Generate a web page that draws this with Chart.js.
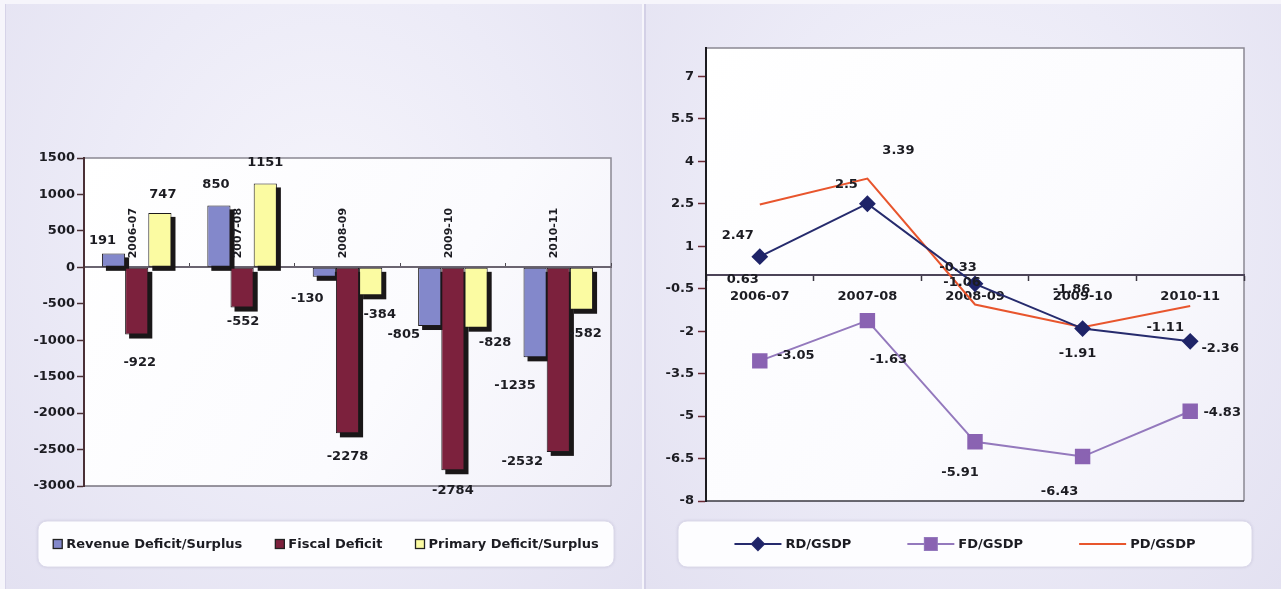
<!DOCTYPE html>
<html>
<head>
<meta charset="utf-8">
<script src="https://cdn.jsdelivr.net/npm/chart.js@4.4.1/dist/chart.umd.min.js"></script>
<style>
  html, body { margin: 0; padding: 0; width: 1281px; height: 589px; overflow: hidden; background: #f6f5fb; }
  .panel { position: absolute; top: 4px; height: 585px; }
  #panelL { left: 5px; width: 636px; border-left: 1px solid #d6d3e8;
            background: radial-gradient(ellipse at 50% 38%, #f5f4fb 0%, #ecebf7 50%, #e3e1f1 100%); }
  #panelR { left: 644px; width: 637px; border-left: 2px solid #d3d0e6;
            background: radial-gradient(ellipse at 50% 38%, #f5f4fb 0%, #ecebf7 50%, #e3e1f1 100%); }
  canvas { position: absolute; top: 0; }
  #bars { left: 0; }
  #ratios { left: 641px; }
</style>
</head>
<body>
<div class="panel" id="panelL"></div>
<div class="panel" id="panelR"></div>
<canvas id="bars" width="641" height="589"></canvas>
<canvas id="ratios" width="640" height="589"></canvas>
<script>
// ---- Deficit figures (Rs. crore) ----
const barCategories = ['2006-07', '2007-08', '2008-09', '2009-10', '2010-11'];
const revenueDeficit = [191, 850, -130, -805, -1235];
const fiscalDeficit = [-922, -552, -2278, -2784, -2532];
const primaryDeficit = [747, 1151, -384, -828, -582];
const barAxisTicks = [1500, 1000, 500, 0, -500, -1000, -1500, -2000, -2500, -3000];

// ---- Deficits as % of GSDP ----
const ratioYears = ['2006-07', '2007-08', '2008-09', '2009-10', '2010-11'];
const rdGsdp = [0.63, 2.5, -0.33, -1.91, -2.36];
const fdGsdp = [-3.05, -1.63, -5.91, -6.43, -4.83];
const pdGsdp = [2.47, 3.39, -1.06, -1.86, -1.11];
const ratioAxisTicks = [7, 5.5, 4, 2.5, 1, -0.5, -2, -3.5, -5, -6.5, -8];

// label placement relative to each mark (pixels)
const revenueLabelShift = [[-11, -13], [-3, -21], [-17, 22], [-26, 9], [-20, 28]];
const fiscalLabelShift = [[3, 28], [1, 14], [0, 23], [0, 20], [-36, 10]];
const primaryLabelShift = [[3, -18], [0, -21], [9, 19], [19, 15], [4, 24]];
const rdLabelShift = [[-17, 23], [-21, -19], [-17, -16], [-5, 25], [30, 7]];
const fdLabelShift = [[36, -5], [21, 39], [-15, 31], [-23, 35], [32, 1]];
const pdLabelShift = [[-22, 31], [31, -28], [-13, -22], [-11, -38], [-25, 22]];

const FONT = '"DejaVu Sans", "Liberation Sans", sans-serif';
const INK = '#1c1c22';
const LABEL_FONT = 'bold 13px ' + FONT;

function roundedBox(ctx, x, y, w, h, r) {
  ctx.beginPath();
  ctx.moveTo(x + r, y);
  ctx.arcTo(x + w, y, x + w, y + h, r);
  ctx.arcTo(x + w, y + h, x, y + h, r);
  ctx.arcTo(x, y + h, x, y, r);
  ctx.arcTo(x, y, x + w, y, r);
  ctx.closePath();
}

function drawLegendFrame(ctx, box) {
  ctx.save();
  ctx.shadowColor = 'rgba(120,115,160,0.35)';
  ctx.shadowBlur = 3;
  roundedBox(ctx, box.x, box.y, box.w, box.h, 9);
  ctx.fillStyle = '#fdfdff';
  ctx.fill();
  ctx.shadowColor = 'transparent';
  ctx.strokeStyle = '#dcdaea';
  ctx.lineWidth = 1;
  ctx.stroke();
  ctx.restore();
}

// white plot area with a thin grey frame
const plotFrame = {
  id: 'plotFrame',
  beforeDraw(chart, args, opts) {
    const { ctx, chartArea: a } = chart;
    ctx.save();
    const g = ctx.createLinearGradient(a.left, a.top, a.right, a.bottom);
    g.addColorStop(0, '#ffffff');
    g.addColorStop(0.6, '#fbfbfe');
    g.addColorStop(1, '#f1f0f9');
    ctx.fillStyle = g;
    ctx.fillRect(a.left, a.top, a.right - a.left, a.bottom - a.top);
    ctx.lineWidth = 1.5;
    ctx.strokeStyle = opts.color;
    ctx.beginPath();
    ctx.moveTo(a.left, a.top);
    ctx.lineTo(a.right, a.top);
    ctx.lineTo(a.right, a.bottom);
    ctx.stroke();
    ctx.strokeStyle = opts.bottomColor;
    ctx.beginPath();
    ctx.moveTo(a.left, a.bottom);
    ctx.lineTo(a.right, a.bottom);
    ctx.stroke();
    ctx.restore();
  }
};

// dark depth behind every bar
const barDepth = {
  id: 'barDepth',
  beforeDatasetsDraw(chart) {
    const ctx = chart.ctx;
    ctx.save();
    ctx.fillStyle = '#1a1718';
    chart.data.datasets.forEach((ds, di) => {
      chart.getDatasetMeta(di).data.forEach(bar => {
        const { x, y, base, width } = bar.getProps(['x', 'y', 'base', 'width'], true);
        const top = Math.min(y, base);
        ctx.fillRect(x - width / 2 + 4, top + 4, width, Math.abs(base - y));
      });
    });
    ctx.restore();
  }
};

// value printed next to every bar / point
const valueLabels = {
  id: 'valueLabels',
  afterDatasetsDraw(chart) {
    const ctx = chart.ctx;
    ctx.save();
    ctx.font = LABEL_FONT;
    ctx.fillStyle = INK;
    ctx.textAlign = 'center';
    ctx.textBaseline = 'middle';
    chart.data.datasets.forEach((ds, di) => {
      chart.getDatasetMeta(di).data.forEach((el, i) => {
        const [dx, dy] = ds.labelShift[i];
        ctx.fillText(String(ds.data[i]), el.x + dx, el.y + dy);
      });
    });
    ctx.restore();
  }
};

// year names standing upright on the zero line
const risingCategoryLabels = {
  id: 'risingCategoryLabels',
  afterDatasetsDraw(chart) {
    const { ctx, scales: { x: xs, y: ys } } = chart;
    const y0 = ys.getPixelForValue(0);
    ctx.save();
    ctx.font = 'bold 11px ' + FONT;
    ctx.fillStyle = INK;
    ctx.textAlign = 'left';
    ctx.textBaseline = 'middle';
    chart.data.labels.forEach((lab, i) => {
      ctx.save();
      ctx.translate(xs.getPixelForValue(i) - 4, y0 - 9);
      ctx.rotate(-Math.PI / 2);
      ctx.fillText(lab, 0, 0);
      ctx.restore();
    });
    ctx.restore();
  }
};

const barLegend = {
  id: 'barLegend',
  afterDraw(chart) {
    const ctx = chart.ctx;
    const box = { x: 38, y: 521, w: 576, h: 46 };
    drawLegendFrame(ctx, box);
    ctx.save();
    ctx.font = LABEL_FONT;
    const sw = 9, sg = 4, gap = 33;
    const items = chart.data.datasets.map(ds => ({
      text: ds.label, color: ds.backgroundColor,
      w: sw + sg + ctx.measureText(ds.label).width
    }));
    const total = items.reduce((s, it) => s + it.w, 0) + gap * (items.length - 1);
    let x = box.x + (box.w - total) / 2;
    const cy = box.y + box.h / 2;
    items.forEach(it => {
      ctx.fillStyle = it.color;
      ctx.fillRect(x, cy - 4.5, sw, sw);
      ctx.strokeStyle = '#222';
      ctx.lineWidth = 1.3;
      ctx.strokeRect(x, cy - 4.5, sw, sw);
      ctx.fillStyle = INK;
      ctx.textAlign = 'left';
      ctx.textBaseline = 'middle';
      ctx.fillText(it.text, x + sw + sg, cy + 0.5);
      x += it.w + gap;
    });
    ctx.restore();
  }
};

const lineLegend = {
  id: 'lineLegend',
  afterDraw(chart) {
    const ctx = chart.ctx;
    const box = { x: 37, y: 521, w: 574, h: 46 };
    drawLegendFrame(ctx, box);
    ctx.save();
    ctx.font = LABEL_FONT;
    const sw = 47, sg = 4, gap = 56;
    const items = chart.data.datasets.map(ds => ({
      ds, w: sw + sg + ctx.measureText(ds.label).width
    }));
    const total = items.reduce((s, it) => s + it.w, 0) + gap * (items.length - 1);
    let x = box.x + (box.w - total) / 2;
    const cy = box.y + box.h / 2;
    items.forEach(({ ds, w }) => {
      ctx.strokeStyle = ds.borderColor;
      ctx.lineWidth = 2;
      ctx.beginPath();
      ctx.moveTo(x, cy);
      ctx.lineTo(x + sw, cy);
      ctx.stroke();
      if (ds.pointRadius > 0) {
        Chart.helpers.drawPoint(ctx, {
          pointStyle: ds.pointStyle, radius: ds.legendRadius, rotation: 0, borderWidth: 1
        }, x + sw / 2, cy);
        ctx.fillStyle = ds.pointBackgroundColor;
        ctx.fill();
      }
      ctx.fillStyle = INK;
      ctx.textAlign = 'left';
      ctx.textBaseline = 'middle';
      ctx.fillText(ds.label, x + sw + sg, cy + 0.5);
      x += w + gap;
    });
    ctx.restore();
  }
};

const tickFont = { family: FONT, weight: 'bold', size: 13 };
const plainNumber = v => String(v);

new Chart(document.getElementById('bars'), {
  type: 'bar',
  data: {
    labels: barCategories,
    datasets: [
      { label: 'Revenue Deficit/Surplus', data: revenueDeficit, backgroundColor: '#8388cb', labelShift: revenueLabelShift },
      { label: 'Fiscal Deficit', data: fiscalDeficit, backgroundColor: '#7c213d', labelShift: fiscalLabelShift },
      { label: 'Primary Deficit/Surplus', data: primaryDeficit, backgroundColor: '#fbfba2', labelShift: primaryLabelShift }
    ]
  },
  options: {
    responsive: false,
    animation: false,
    events: [],
    layout: { padding: { left: 0, right: 30, top: 158, bottom: 103 } },
    datasets: { bar: { categoryPercentage: 0.66, barPercentage: 1, borderWidth: 1, borderColor: '#1d1a1c', borderSkipped: false } },
    scales: {
      x: {
        position: { y: 0 },
        offset: true,
        grid: { offset: true, drawOnChartArea: false, drawTicks: true, tickLength: -5, tickColor: '#4e4a52', tickWidth: 1 },
        border: { color: '#6a6470', width: 2 },
        ticks: { display: false }
      },
      y: {
        min: -3000, max: 1500,
        afterBuildTicks: s => { s.ticks = barAxisTicks.map(v => ({ value: v })); },
        afterFit: s => { s.width = 84; },
        grid: { drawOnChartArea: false, tickLength: 7, tickColor: '#4a3036', tickWidth: 1.5 },
        border: { color: '#4a3036', width: 2 },
        ticks: { padding: 2, color: INK, font: tickFont, callback: plainNumber }
      }
    },
    plugins: {
      legend: { display: false },
      tooltip: { enabled: false },
      plotFrame: { color: '#8b8893', bottomColor: '#77737e' }
    }
  },
  plugins: [plotFrame, barDepth, risingCategoryLabels, valueLabels, barLegend]
});

new Chart(document.getElementById('ratios'), {
  type: 'line',
  data: {
    labels: ratioYears,
    datasets: [
      { label: 'RD/GSDP', data: rdGsdp, borderColor: '#262b6d', pointBackgroundColor: '#1f2468', pointBorderColor: '#1f2468',
        pointStyle: 'rectRot', pointRadius: 7, legendRadius: 6, borderWidth: 2, labelShift: rdLabelShift },
      { label: 'FD/GSDP', data: fdGsdp, borderColor: '#9479bd', pointBackgroundColor: '#8a63b2', pointBorderColor: '#8a63b2',
        pointStyle: 'rect', pointRadius: 9.5, legendRadius: 8.5, borderWidth: 2, labelShift: fdLabelShift },
      { label: 'PD/GSDP', data: pdGsdp, borderColor: '#e8552d', pointRadius: 0, borderWidth: 2, labelShift: pdLabelShift }
    ]
  },
  options: {
    responsive: false,
    animation: false,
    events: [],
    layout: { padding: { left: 0, right: 37, top: 48, bottom: 88 } },
    scales: {
      x: {
        position: { y: 0 },
        offset: true,
        grid: { offset: true, drawOnChartArea: false, tickLength: 5, tickColor: '#3a3540', tickWidth: 1.5 },
        border: { color: '#4c4458', width: 2 },
        ticks: { color: INK, font: tickFont, padding: 9, maxRotation: 0, autoSkip: false }
      },
      y: {
        min: -8, max: 8,
        afterBuildTicks: s => { s.ticks = ratioAxisTicks.map(v => ({ value: v })); },
        afterFit: s => { s.width = 65; },
        grid: { drawOnChartArea: false, tickLength: 8, tickColor: '#6a2a35', tickWidth: 1.5 },
        border: { color: '#1c1b20', width: 2 },
        ticks: { padding: 4, color: INK, font: tickFont, callback: plainNumber }
      }
    },
    plugins: {
      legend: { display: false },
      tooltip: { enabled: false },
      plotFrame: { color: '#8b8893', bottomColor: '#3a3840' }
    }
  },
  plugins: [plotFrame, valueLabels, lineLegend]
});
</script>
</body>
</html>
